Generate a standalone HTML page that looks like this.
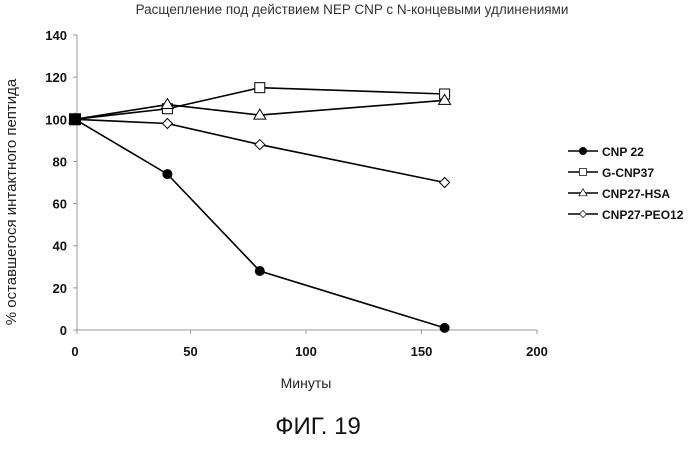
<!DOCTYPE html>
<html><head><meta charset="utf-8"><style>
body{margin:0;background:#fff;}
svg text{font-family:"Liberation Sans",sans-serif;}
</style></head><body>
<svg id="chart" width="699" height="444" xmlns="http://www.w3.org/2000/svg"></svg>
<script>
const xTicks=[0,50,100,150,200];
const yTicks=[0,20,40,60,80,100,120,140];
const times=[0,40,80,160];
const seriesNames=["CNP 22","G-CNP37","CNP27-HSA","CNP27-PEO12"];
const cnp22=[100,74,28,1];
const gcnp37=[100,105,115,112];
const hsa=[100,107,102,109];
const peo12=[100,98,88,70];
const allSeries=[cnp22,gcnp37,hsa,peo12];
const markers=["circle","square","triangle","diamond"];
const NS="http://www.w3.org/2000/svg";
const svg=document.getElementById('chart');
const X=v=>75+v*(462/200);
const Y=v=>330-v*(295/140);
function mk(t,a,p){const e=document.createElementNS(NS,t);for(const k in a)e.setAttribute(k,a[k]);(p||svg).appendChild(e);return e;}
function txt(s,a){const e=mk('text',a);e.textContent=s;return e;}
let e;
e=txt("Расщепление под действием NEP CNP с N-концевыми удлинениями",{x:352,y:14,'text-anchor':'middle','font-size':13.5,fill:'#333'});

e=mk('line',{x1:77,y1:Y(140),x2:77,y2:Y(0),stroke:'#999','stroke-width':1});

e=mk('line',{x1:77,y1:Y(0),x2:X(200),y2:Y(0),stroke:'#999','stroke-width':1});

yTicks.forEach(v=>{
 mk('line',{x1:73,y1:Y(v),x2:77,y2:Y(v),stroke:'#999'});
 e=txt(String(v),{x:67,y:Y(v)+5,'text-anchor':'end','font-size':13,'font-weight':'bold',fill:'#111'});
 
});
xTicks.forEach(v=>{
 mk('line',{x1:X(v)+(v==0?2:0),y1:Y(0),x2:X(v)+(v==0?2:0),y2:Y(0)+4,stroke:'#999'});
 e=txt(String(v),{x:X(v),y:356,'text-anchor':'middle','font-size':13,'font-weight':'bold',fill:'#111'});
 
});
e=txt("Минуты",{x:306,y:388,'text-anchor':'middle','font-size':14,fill:'#222'});

e=txt("% оставшегося интактного пептида",{x:0,y:0,'text-anchor':'middle','font-size':15,fill:'#222',transform:'translate(16,202) rotate(-90)'});

e=txt("ФИГ. 19",{x:318,y:434,'text-anchor':'middle','font-size':24,fill:'#111'});

function marker(type,cx,cy,g){
 if(type=="circle")return mk('circle',{cx,cy,r:5,fill:'#000'},g);
 if(type=="square")return mk('rect',{x:cx-5,y:cy-5,width:10,height:10,fill:'#fff',stroke:'#000','stroke-width':1},g);
 if(type=="triangle")return mk('polygon',{points:`${cx},${cy-6} ${cx+6},${cy+4} ${cx-6},${cy+4}`,fill:'#fff',stroke:'#000'},g);
 return mk('polygon',{points:`${cx},${cy-5} ${cx+5},${cy} ${cx},${cy+5} ${cx-5},${cy}`,fill:'#fff',stroke:'#000'},g);
}
allSeries.forEach((s,i)=>{
 const g=mk('g',{});
 
 
 mk('polyline',{points:s.map((v,j)=>X(times[j])+','+Y(v)).join(' '),fill:'none',stroke:'#000','stroke-width':1.6},g);
 s.forEach((v,j)=>{const m=marker(markers[i],X(times[j]),Y(v),g);
  });
});
const lg=mk('g',{});

seriesNames.forEach((n,i)=>{
 const y=151+i*21;
 const eg=mk('g',{},lg);
 
 mk('line',{x1:568,y1:y,x2:598,y2:y,stroke:'#000','stroke-width':1.6},eg);
 const m=marker(markers[i],583,y,eg);
 if(markers[i]!="circle"){m.setAttribute('transform',`translate(583,${y}) scale(0.7) translate(-583,${-y})`);}
 else m.setAttribute('r',4);
 const t=txt(n,{x:602,y:y+5,'font-size':12,'font-weight':'bold',fill:'#111'},eg);
 
 
 eg.appendChild(t);
});
e=mk('rect',{x:X(0)-6,y:Y(100)-6,width:12,height:12,fill:'#000'});


</script>
</body></html>
